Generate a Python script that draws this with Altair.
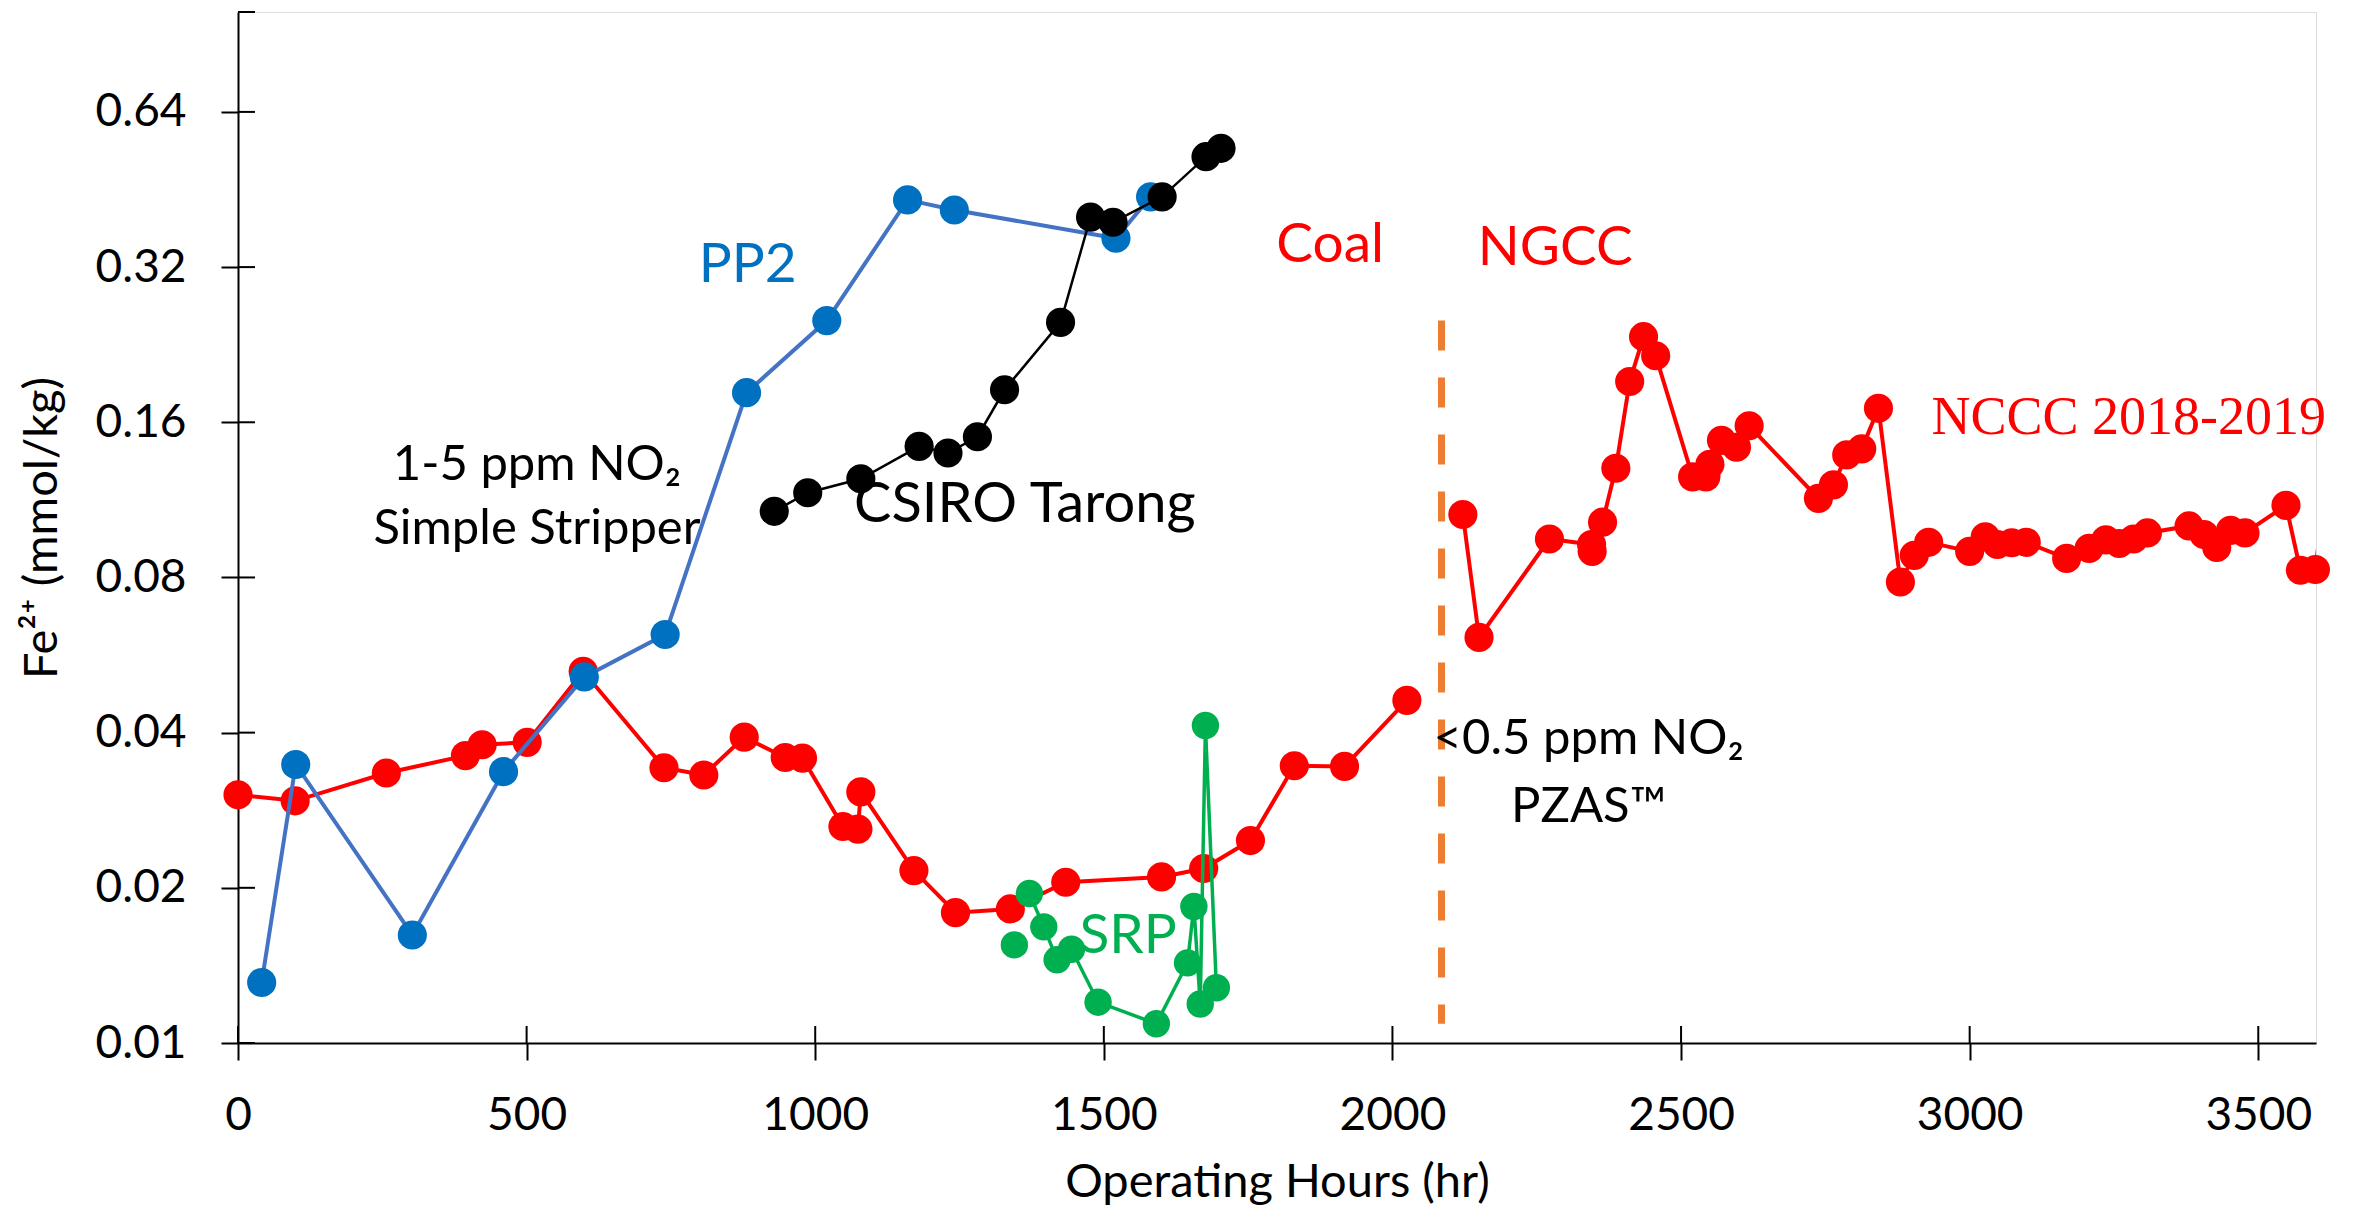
import altair as alt
import pandas as pd

# ---------------- data ----------------
coal_hours = [0, 99, 257, 394, 423, 501, 598, 738, 807, 877, 948, 978, 1048, 1074, 1079,
              1171, 1243, 1338, 1434, 1600, 1673, 1754, 1830, 1917, 2025]
coal_fe = [0.0303, 0.0295, 0.0334, 0.0361, 0.0379, 0.0383, 0.0526, 0.0342, 0.0331, 0.0392,
           0.0358, 0.0357, 0.0263, 0.0260, 0.0307, 0.0216, 0.0179, 0.0182, 0.0205, 0.0210,
           0.0218, 0.0247, 0.0345, 0.0344, 0.0462]

ngcc_hours = [2122, 2150, 2272, 2345, 2346, 2364, 2387, 2411, 2435, 2456, 2520, 2543, 2550,
              2570, 2596, 2618, 2738, 2764, 2787, 2813, 2842, 2880, 2904, 2929, 3000, 3027,
              3048, 3073, 3098, 3168, 3207, 3236, 3259, 3284, 3308, 3380, 3406, 3428, 3452,
              3477, 3548, 3573, 3599, 3620]
ngcc_fe = [0.1060, 0.0612, 0.0950, 0.0927, 0.0899, 0.1024, 0.1303, 0.1920, 0.2345, 0.2154,
           0.1254, 0.1254, 0.1326, 0.1476, 0.1431, 0.1575, 0.1139, 0.1210, 0.1383, 0.1421,
           0.1703, 0.0784, 0.0883, 0.0936, 0.0899, 0.0959, 0.0927, 0.0934, 0.0936, 0.0871,
           0.0911, 0.0946, 0.0931, 0.0950, 0.0976, 0.1007, 0.0969, 0.0915, 0.0987, 0.0976,
           0.1104, 0.0826, 0.0829, 0.1300]

pp2_hours = [41, 100, 302, 460, 600, 740, 881, 1020, 1160, 1241, 1521, 1581]
pp2_fe = [0.0131, 0.0347, 0.0162, 0.0336, 0.0513, 0.0620, 0.1826, 0.252, 0.432, 0.413,
          0.364, 0.438]

csiro_hours = [929, 987, 1079, 1180, 1230, 1281, 1328, 1425, 1477, 1516, 1601, 1677, 1703]
csiro_fe = [0.1075, 0.1168, 0.1243, 0.1437, 0.1395, 0.1500, 0.185, 0.250, 0.400, 0.391,
            0.438, 0.524, 0.544]

srp_hours = [1371, 1396, 1419, 1444, 1490, 1591, 1645, 1656, 1667, 1676, 1695]
srp_fe = [0.0195, 0.0168, 0.0145, 0.0152, 0.0120, 0.0109, 0.0143, 0.0184, 0.0119, 0.0413,
          0.0128]
srp_lone_hours = [1345]
srp_lone_fe = [0.0155]

divider_hours = [2085]
divider_top = [0.252]
divider_bottom = [0.0109]

x_ticks = [0, 500, 1000, 1500, 2000, 2500, 3000, 3500]
y_ticks = [0.01, 0.02, 0.04, 0.08, 0.16, 0.32, 0.64]
x_max = 3600
y_range = [0.01, 1.0]

# ---------------- chart ----------------
W, H = 2078, 1031
SANS = "Lato"
TICK = 17

x_scale = alt.Scale(domain=[0, x_max], nice=False, zero=False)
y_scale = alt.Scale(type="log", base=2, domain=y_range, nice=False)

x_axis = alt.Axis(values=x_ticks, format="d", title="Operating Hours (hr)", grid=False,
                  domainColor="black", domainWidth=2, tickColor="black", tickWidth=2,
                  tickSize=TICK, labelFont=SANS, labelFontSize=46, labelColor="black",
                  labelBaseline="alphabetic", labelPadding=69, labelFlush=False,
                  titleFont=SANS, titleFontSize=47, titleFontWeight="normal",
                  titleColor="black", titleBaseline="alphabetic", titleY=153)
y_axis = alt.Axis(values=y_ticks, format=".2f", title="Fe²⁺ (mmol/kg)", grid=False,
                  domainColor="black", domainWidth=2, tickColor="black", tickWidth=2,
                  tickSize=TICK, labelFont=SANS, labelFontSize=46, labelColor="black",
                  labelPadding=35, labelFlush=False,
                  titleFont=SANS, titleFontSize=47, titleFontWeight="normal",
                  titleColor="black", titleX=-196, titleY=H / 2, titleAlign="center",
                  titleBaseline="middle", titleAngle=270)

X = alt.X("hours:Q", scale=x_scale, axis=x_axis)
Y = alt.Y("fe:Q", scale=y_scale, axis=y_axis)


def frame(xs, ys):
    return pd.DataFrame({"hours": xs, "fe": ys})


def series(xs, ys, line_color, point_color, line_w, point_size):
    base = alt.Chart(frame(xs, ys))
    line = base.mark_line(color=line_color, strokeWidth=line_w, clip=True).encode(
        x=X, y=Y, order="hours:Q")
    pts = base.transform_filter(alt.datum.hours <= x_max).mark_circle(
        color=point_color, size=point_size, opacity=1).encode(x=X, y=Y)
    return line + pts


# inner halves of the crossing tick marks
x_inner = alt.Chart(pd.DataFrame({"hours": x_ticks})).mark_rule(
    color="black", strokeWidth=2).encode(x=X, y=alt.value(H), y2=alt.value(H - TICK))
y_inner = alt.Chart(pd.DataFrame({"fe": y_ticks + [y_range[1]]})).mark_rule(
    color="black", strokeWidth=2).encode(y=Y, x=alt.value(0), x2=alt.value(TICK))

divider = alt.Chart(pd.DataFrame({"hours": divider_hours, "fe": divider_top,
                                  "fe2": divider_bottom})).mark_rule(
    color="#ED7D31", strokeWidth=7, strokeDash=[30, 27]).encode(x=X, y=Y, y2="fe2:Q")

coal = series(coal_hours, coal_fe, "#FF0000", "#FF0000", 4, 850)
ngcc = series(ngcc_hours, ngcc_fe, "#FF0000", "#FF0000", 4, 850)
pp2 = series(pp2_hours, pp2_fe, "#4472C4", "#0070C0", 4, 850)
csiro = series(csiro_hours, csiro_fe, "#000000", "#000000", 2.5, 850)
srp = series(srp_hours, srp_fe, "#00B050", "#00B050", 3.5, 750)
srp_lone = alt.Chart(frame(srp_lone_hours, srp_lone_fe)).mark_circle(
    color="#00B050", size=750, opacity=1).encode(x=X, y=Y)


def ann(text, hx, fy, color="black", size=55, font=SANS, align="center"):
    return alt.Chart(pd.DataFrame({"hours": [hx], "fe": [fy], "label": [text]})).mark_text(
        color=color, fontSize=size, font=font, align=align, baseline="alphabetic"
    ).encode(x=X, y=Y, text="label:N")


labels = [
    ann("PP2", 883, 0.300, color="#0070C0", size=55),
    ann("Coal", 1892, 0.328, color="#FF0000", size=55),
    ann("NGCC", 2282, 0.323, color="#FF0000", size=55),
    ann("CSIRO Tarong", 1363, 0.1025, size=56),
    ann("SRP", 1542, 0.01492, color="#00B050", size=55),
    ann("1-5 ppm NO₂", 518, 0.1234, size=49),
    ann("Simple Stripper", 518, 0.0931, size=49),
    ann("<0.5 ppm NO₂", 2340, 0.0363, size=49),
    ann("PZAS™", 2340, 0.02687, size=49),
    ann("NCCC 2018-2019", 2934, 0.1516, color="#FF0000", size=54,
        font="Liberation Serif", align="left"),
]

chart = alt.layer(
    x_inner, y_inner, divider, coal, ngcc, pp2, csiro, srp, srp_lone, *labels
).properties(
    width=W, height=H,
    padding={"left": 238, "top": 12, "right": 40, "bottom": 168},
    autosize=alt.AutoSizeParams(type="none"),
).configure_view(strokeWidth=0).configure(background="white")

chart.save("out.html", embed_options={"renderer": "svg", "actions": False})
